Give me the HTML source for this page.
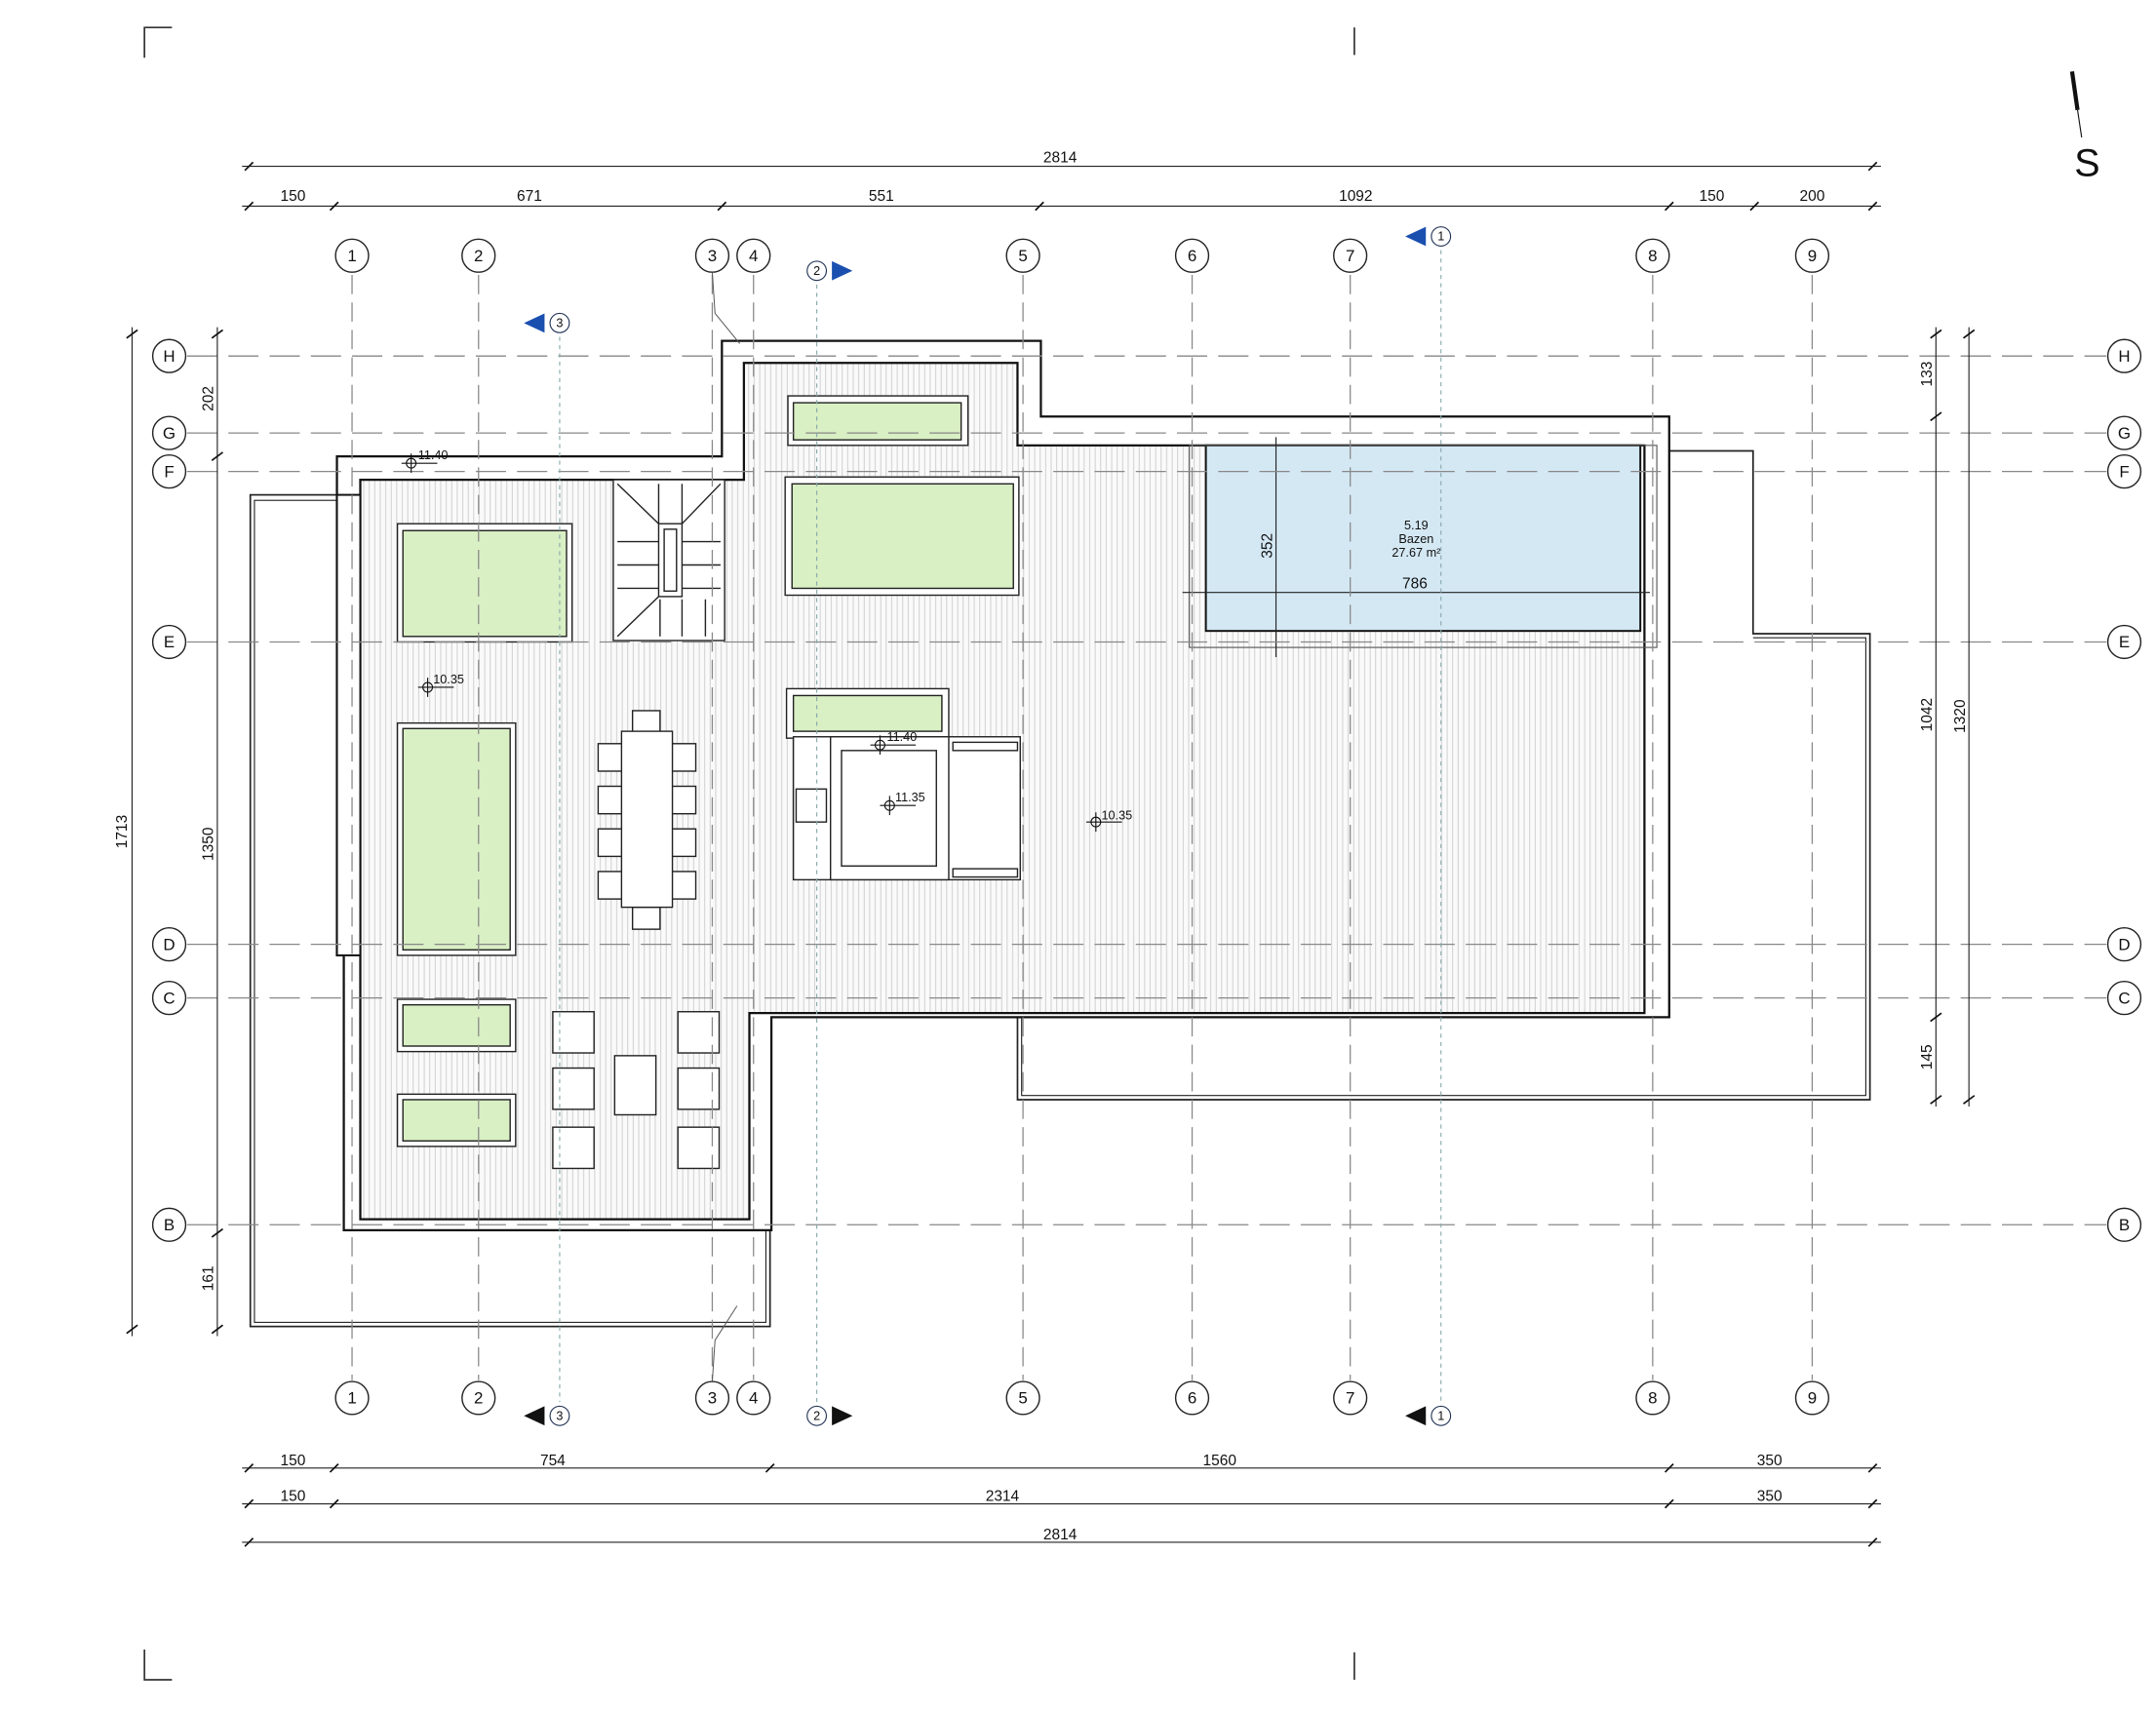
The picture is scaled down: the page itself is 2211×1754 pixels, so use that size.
<!DOCTYPE html>
<html><head><meta charset="utf-8"><style>
html,body{margin:0;padding:0;background:#fff;}
svg{display:block;}
text{font-family:"Liberation Sans",sans-serif;fill:#111;}
</style></head><body>
<svg width="2211" height="1754" viewBox="0 0 1568 1244" xmlns="http://www.w3.org/2000/svg">
<defs>
<pattern id="deck" width="4" height="10" patternUnits="userSpaceOnUse">
<rect width="4" height="10" fill="#fafafa"/>
<line x1="0.5" y1="0" x2="0.5" y2="10" stroke="#c8c8c8" stroke-width="0.6"/>
</pattern>
</defs>
<rect width="1568" height="1244" fill="#fff"/>
<!-- corner marks -->
<g stroke="#333" stroke-width="1.2" fill="none">
<polyline points="105,42 105,20 125,20"/>
<polyline points="105,1200 105,1222 125,1222"/>
<line x1="985" y1="20" x2="985" y2="40"/>
<line x1="985" y1="1202" x2="985" y2="1222"/>
</g>
<!-- north -->
<line x1="1507" y1="52" x2="1511" y2="80" stroke="#111" stroke-width="3"/>
<line x1="1511" y1="80" x2="1514" y2="100" stroke="#111" stroke-width="0.8"/>
<text x="1518" y="128" font-size="28" text-anchor="middle">S</text>

<!-- outer slab -->
<g fill="#fff" stroke="#222" stroke-width="1.2">
<rect x="182" y="360" width="378" height="605"/>
<polygon points="1214,328 1275,328 1275,461 1360,461 1360,800 740,800 740,740 1214,740"/>
</g>
<g fill="none" stroke="#222" stroke-width="0.8">
<rect x="185" y="364" width="372" height="598"/>
<polyline points="1275,464 1357,464 1357,797 743,797 743,740"/>
</g>
<!-- building -->
<polygon points="245,332 525,332 525,248 757,248 757,303 1214,303 1214,740 561,740 561,895 250,895 250,695 245,695" fill="#fff" stroke="#111" stroke-width="1.6"/>
<polygon points="262,349 541,349 541,264 740,264 740,324 1196,324 1196,737 545,737 545,887 262,887" fill="url(#deck)" stroke="#111" stroke-width="1.6"/>
<rect x="245" y="360" width="17" height="335" fill="#fff" stroke="#111" stroke-width="1.4"/>
<!-- pool -->
<rect x="877" y="324" width="316" height="135" fill="#d4e8f4" stroke="#111" stroke-width="1.4"/>
<rect x="865" y="324" width="340" height="147" fill="none" stroke="#555" stroke-width="0.8"/>
<text x="1030" y="385" font-size="9" text-anchor="middle">5.19</text>
<text x="1030" y="395" font-size="9" text-anchor="middle">Bazen</text>
<text x="1030" y="405" font-size="9" text-anchor="middle">27.67 m²</text>
<line x1="928" y1="318" x2="928" y2="478" stroke="#222" stroke-width="0.8"/>
<text transform="translate(925,397) rotate(-90)" font-size="11" text-anchor="middle">352</text>
<line x1="860" y1="431" x2="1200" y2="431" stroke="#222" stroke-width="0.8"/>
<text x="1029" y="428" font-size="11" text-anchor="middle">786</text>

<!-- planters -->
<g fill="#fff" stroke="#222" stroke-width="1">
<rect x="573" y="288" width="131" height="36"/>
<rect x="571" y="347" width="170" height="86"/>
<rect x="289" y="381" width="127" height="86"/>
<rect x="289" y="526" width="86" height="169"/>
<rect x="289" y="727" width="86" height="38"/>
<rect x="289" y="796" width="86" height="38"/>
<rect x="572" y="501" width="118" height="36"/>
</g>
<g fill="#d9efc4" stroke="#222" stroke-width="1">
<rect x="577" y="293" width="122" height="27"/>
<rect x="576" y="352" width="161" height="76"/>
<rect x="293" y="386" width="119" height="77"/>
<rect x="293" y="530" width="78" height="161"/>
<rect x="293" y="731" width="78" height="30"/>
<rect x="293" y="800" width="78" height="30"/>
<rect x="577" y="506" width="108" height="26"/>
<rect x="696" y="551" width="43" height="76"/>
</g>
<!-- stair -->
<g fill="#fff" stroke="#222" stroke-width="1">
<rect x="446" y="349" width="81" height="117"/>
<rect x="479" y="381" width="17" height="53"/>
<rect x="483" y="385" width="9" height="45" fill="none"/>
<line x1="449" y1="352" x2="479" y2="381"/><line x1="524" y1="352" x2="496" y2="381"/>
<line x1="479" y1="434" x2="449" y2="463"/>
<line x1="449" y1="394" x2="479" y2="394"/><line x1="449" y1="411" x2="479" y2="411"/><line x1="449" y1="428" x2="479" y2="428"/>
<line x1="496" y1="394" x2="524" y2="394"/><line x1="496" y1="411" x2="524" y2="411"/><line x1="496" y1="428" x2="524" y2="428"/>
<line x1="479" y1="352" x2="479" y2="381"/><line x1="496" y1="352" x2="496" y2="381"/>
<line x1="480" y1="436" x2="480" y2="463"/><line x1="496" y1="436" x2="496" y2="463"/><line x1="513" y1="436" x2="513" y2="463"/>
</g>
<!-- table & chairs -->
<g fill="#fff" stroke="#222" stroke-width="1">
<rect x="460" y="517" width="20" height="16"/>
<rect x="460" y="660" width="20" height="16"/>
<rect x="435" y="541" width="18" height="20"/><rect x="435" y="572" width="18" height="20"/><rect x="435" y="603" width="18" height="20"/><rect x="435" y="634" width="18" height="20"/>
<rect x="488" y="541" width="18" height="20"/><rect x="488" y="572" width="18" height="20"/><rect x="488" y="603" width="18" height="20"/><rect x="488" y="634" width="18" height="20"/>
<rect x="452" y="532" width="37" height="128"/>
<rect x="402" y="736" width="30" height="30"/><rect x="402" y="777" width="30" height="30"/><rect x="402" y="820" width="30" height="30"/>
<rect x="493" y="736" width="30" height="30"/><rect x="493" y="777" width="30" height="30"/><rect x="493" y="820" width="30" height="30"/>
<rect x="447" y="768" width="30" height="43"/>
</g>
<!-- kitchen -->
<g fill="#fff" stroke="#222" stroke-width="1">
<rect x="577" y="536" width="165" height="104"/>
<rect x="604" y="536" width="86" height="104"/>
<rect x="612" y="546" width="69" height="84"/>
<rect x="579" y="574" width="22" height="24"/>
<rect x="693" y="540" width="47" height="6"/>
<rect x="693" y="632" width="47" height="6"/>
</g>
<!-- grid columns -->
<g stroke="#888" stroke-width="0.9" stroke-dasharray="14,6" fill="none">
<line x1="256" y1="200" x2="256" y2="1004"/>
<line x1="348" y1="200" x2="348" y2="1004"/>
<line x1="518" y1="200" x2="518" y2="1004"/>
<line x1="548" y1="200" x2="548" y2="1004"/>
<line x1="744" y1="200" x2="744" y2="1004"/>
<line x1="867" y1="200" x2="867" y2="1004"/>
<line x1="982" y1="200" x2="982" y2="1004"/>
<line x1="1202" y1="200" x2="1202" y2="1004"/>
<line x1="1318" y1="200" x2="1318" y2="1004"/>
</g>
<g stroke="#888" stroke-width="0.9" stroke-dasharray="22,8" fill="none">
<line x1="136" y1="259" x2="1532" y2="259"/>
<line x1="136" y1="315" x2="1532" y2="315"/>
<line x1="136" y1="343" x2="1532" y2="343"/>
<line x1="136" y1="467" x2="1532" y2="467"/>
<line x1="136" y1="687" x2="1532" y2="687"/>
<line x1="136" y1="726" x2="1532" y2="726"/>
<line x1="136" y1="891" x2="1532" y2="891"/>
</g>
<g stroke="#8aa" stroke-width="0.8" stroke-dasharray="3,3" fill="none">
<line x1="407" y1="245" x2="407" y2="1020"/>
<line x1="594" y1="207" x2="594" y2="1020"/>
<line x1="1048" y1="182" x2="1048" y2="1020"/>
</g>
<!-- grid bubbles -->
<g fill="#fff" stroke="#222" stroke-width="1">
<circle cx="256" cy="186" r="12"/><circle cx="348" cy="186" r="12"/><circle cx="518" cy="186" r="12"/><circle cx="548" cy="186" r="12"/><circle cx="744" cy="186" r="12"/><circle cx="867" cy="186" r="12"/><circle cx="982" cy="186" r="12"/><circle cx="1202" cy="186" r="12"/><circle cx="1318" cy="186" r="12"/>
<circle cx="256" cy="1017" r="12"/><circle cx="348" cy="1017" r="12"/><circle cx="518" cy="1017" r="12"/><circle cx="548" cy="1017" r="12"/><circle cx="744" cy="1017" r="12"/><circle cx="867" cy="1017" r="12"/><circle cx="982" cy="1017" r="12"/><circle cx="1202" cy="1017" r="12"/><circle cx="1318" cy="1017" r="12"/>
<circle cx="123" cy="259" r="12"/><circle cx="123" cy="315" r="12"/><circle cx="123" cy="343" r="12"/><circle cx="123" cy="467" r="12"/><circle cx="123" cy="687" r="12"/><circle cx="123" cy="726" r="12"/><circle cx="123" cy="891" r="12"/>
<circle cx="1545" cy="259" r="12"/><circle cx="1545" cy="315" r="12"/><circle cx="1545" cy="343" r="12"/><circle cx="1545" cy="467" r="12"/><circle cx="1545" cy="687" r="12"/><circle cx="1545" cy="726" r="12"/><circle cx="1545" cy="891" r="12"/>
</g>
<g font-size="12" text-anchor="middle">
<text x="256" y="190">1</text><text x="348" y="190">2</text><text x="518" y="190">3</text><text x="548" y="190">4</text><text x="744" y="190">5</text><text x="867" y="190">6</text><text x="982" y="190">7</text><text x="1202" y="190">8</text><text x="1318" y="190">9</text>
<text x="256" y="1021">1</text><text x="348" y="1021">2</text><text x="518" y="1021">3</text><text x="548" y="1021">4</text><text x="744" y="1021">5</text><text x="867" y="1021">6</text><text x="982" y="1021">7</text><text x="1202" y="1021">8</text><text x="1318" y="1021">9</text>
<text x="123" y="263">H</text><text x="123" y="319">G</text><text x="123" y="347">F</text><text x="123" y="471">E</text><text x="123" y="691">D</text><text x="123" y="730">C</text><text x="123" y="895">B</text>
<text x="1545" y="263">H</text><text x="1545" y="319">G</text><text x="1545" y="347">F</text><text x="1545" y="471">E</text><text x="1545" y="691">D</text><text x="1545" y="730">C</text><text x="1545" y="895">B</text>
</g>
<!-- section markers -->
<g stroke="#235" stroke-width="0.8">
<circle cx="407" cy="235" r="7" fill="#fff"/><polygon points="381,235 396,228 396,242" fill="#1a4fb0" stroke="none"/>
<circle cx="594" cy="197" r="7" fill="#fff"/><polygon points="620,197 605,190 605,204" fill="#1a4fb0" stroke="none"/>
<circle cx="1048" cy="172" r="7" fill="#fff"/><polygon points="1022,172 1037,165 1037,179" fill="#1a4fb0" stroke="none"/>
<circle cx="407" cy="1030" r="7" fill="#fff"/><polygon points="381,1030 396,1023 396,1037" fill="#111" stroke="none"/>
<circle cx="594" cy="1030" r="7" fill="#fff"/><polygon points="620,1030 605,1023 605,1037" fill="#111" stroke="none"/>
<circle cx="1048" cy="1030" r="7" fill="#fff"/><polygon points="1022,1030 1037,1023 1037,1037" fill="#111" stroke="none"/>
</g>
<g font-size="9" text-anchor="middle">
<text x="407" y="238">3</text><text x="594" y="200">2</text><text x="1048" y="175">1</text>
<text x="407" y="1033">3</text><text x="594" y="1033">2</text><text x="1048" y="1033">1</text>
</g>
<!-- level markers -->
<g stroke="#111" stroke-width="0.8" fill="none">
<circle cx="299" cy="337" r="3.5"/><line x1="292" y1="337" x2="318" y2="337"/><line x1="299" y1="330" x2="299" y2="344"/>
<circle cx="311" cy="500" r="3.5"/><line x1="304" y1="500" x2="330" y2="500"/><line x1="311" y1="493" x2="311" y2="507"/>
<circle cx="640" cy="542" r="3.5"/><line x1="633" y1="542" x2="666" y2="542"/><line x1="640" y1="535" x2="640" y2="549"/>
<circle cx="647" cy="586" r="3.5"/><line x1="640" y1="586" x2="666" y2="586"/><line x1="647" y1="579" x2="647" y2="593"/>
<circle cx="797" cy="598" r="3.5"/><line x1="790" y1="598" x2="816" y2="598"/><line x1="797" y1="591" x2="797" y2="605"/>
</g>
<g font-size="9">
<text x="304" y="334">11.40</text><text x="315" y="497">10.35</text><text x="645" y="539">11.40</text><text x="651" y="583">11.35</text><text x="801" y="596">10.35</text>
</g>
<!-- dimensions -->
<g stroke="#222" stroke-width="0.8">
<line x1="176" y1="121" x2="1368" y2="121"/>
<line x1="176" y1="150" x2="1368" y2="150"/>
<line x1="176" y1="1068" x2="1368" y2="1068"/>
<line x1="176" y1="1094" x2="1368" y2="1094"/>
<line x1="176" y1="1122" x2="1368" y2="1122"/>
<line x1="96" y1="238" x2="96" y2="972"/>
<line x1="158" y1="238" x2="158" y2="972"/>
<line x1="1408" y1="238" x2="1408" y2="805"/>
<line x1="1432" y1="238" x2="1432" y2="805"/>
</g>
<g stroke="#111" stroke-width="1.2">
<path d="M178,124 l6,-6 M1359,124 l6,-6"/>
<path d="M178,153 l6,-6 M240,153 l6,-6 M522,153 l6,-6 M753,153 l6,-6 M1211,153 l6,-6 M1273,153 l6,-6 M1359,153 l6,-6"/>
<path d="M178,1071 l6,-6 M240,1071 l6,-6 M557,1071 l6,-6 M1211,1071 l6,-6 M1359,1071 l6,-6"/>
<path d="M178,1097 l6,-6 M240,1097 l6,-6 M1211,1097 l6,-6 M1359,1097 l6,-6"/>
<path d="M178,1125 l6,-6 M1359,1125 l6,-6"/>
<path d="M92,246 l8,-6 M92,970 l8,-6"/>
<path d="M154,246 l8,-6 M154,335 l8,-6 M154,900 l8,-6 M154,970 l8,-6"/>
<path d="M1404,246 l8,-6 M1404,306 l8,-6 M1404,743 l8,-6 M1404,803 l8,-6"/>
<path d="M1428,246 l8,-6 M1428,803 l8,-6"/>
</g>
<g font-size="11" text-anchor="middle">
<text x="771" y="118">2814</text>
<text x="213" y="146">150</text><text x="385" y="146">671</text><text x="641" y="146">551</text><text x="986" y="146">1092</text><text x="1245" y="146">150</text><text x="1318" y="146">200</text>
<text x="213" y="1066">150</text><text x="402" y="1066">754</text><text x="887" y="1066">1560</text><text x="1287" y="1066">350</text>
<text x="213" y="1092">150</text><text x="729" y="1092">2314</text><text x="1287" y="1092">350</text>
<text x="771" y="1120">2814</text>
<text transform="translate(92,605) rotate(-90)">1713</text>
<text transform="translate(155,290) rotate(-90)">202</text>
<text transform="translate(155,614) rotate(-90)">1350</text>
<text transform="translate(155,930) rotate(-90)">161</text>
<text transform="translate(1405,272) rotate(-90)">133</text>
<text transform="translate(1405,520) rotate(-90)">1042</text>
<text transform="translate(1405,769) rotate(-90)">145</text>
<text transform="translate(1429,521) rotate(-90)">1320</text>
</g>
<!-- leader lines -->
<g stroke="#555" stroke-width="0.7" fill="none">
<polyline points="518,198 520,228 538,250"/>
<polyline points="518,1005 520,975 536,950"/>
</g>
</svg>
</body></html>
